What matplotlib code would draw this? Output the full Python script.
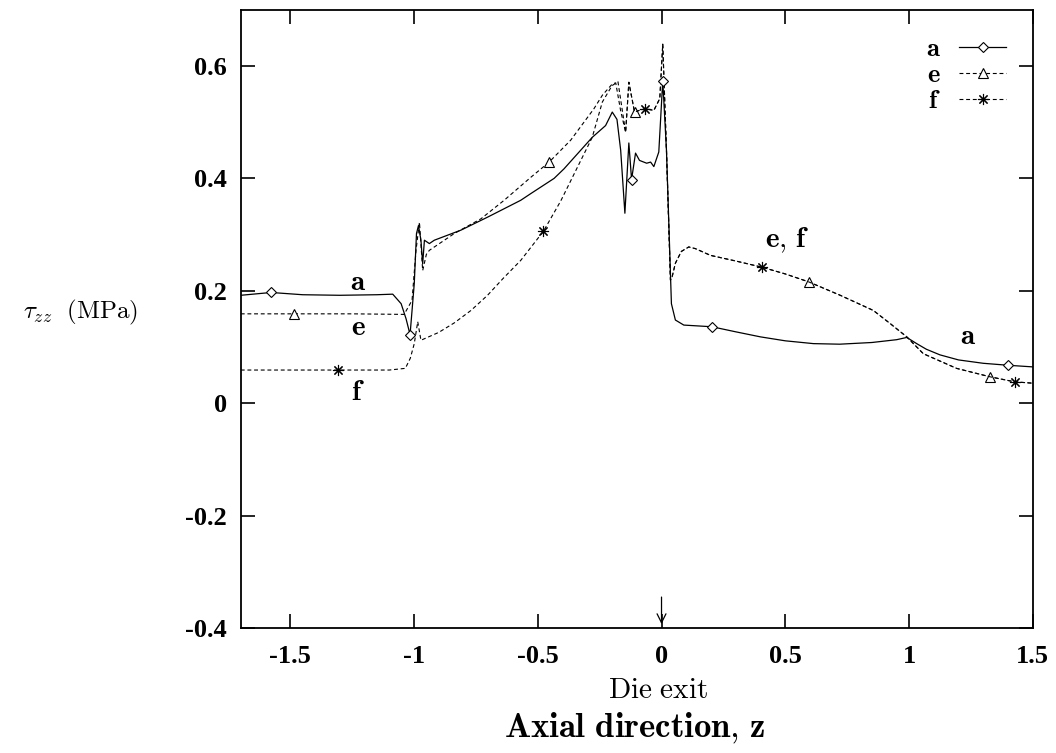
import matplotlib
matplotlib.use("Agg")
import matplotlib.pyplot as plt

plt.rcParams["mathtext.fontset"] = "cm"

# Data

a_x = [-1.70, -1.577, -1.45, -1.30, -1.15, -1.086, -1.052, -1.032, -1.016,
       -0.999, -0.99, -0.982, -0.972, -0.965, -0.958, -0.938, -0.918,
       -0.81, -0.703, -0.569, -0.528, -0.434, -0.394, -0.28, -0.226, -0.199,
       -0.18, -0.165, -0.148, -0.132, -0.121, -0.105, -0.089, -0.06, -0.044,
       -0.031, -0.011, 0.005, 0.02, 0.040, 0.056, 0.09, 0.204, 0.30, 0.40,
       0.50, 0.614, 0.72, 0.85, 0.95, 0.991, 1.031, 1.07, 1.125, 1.20, 1.30,
       1.40, 1.50]
a_y = [0.192, 0.197, 0.193, 0.192, 0.193, 0.194, 0.177, 0.150, 0.122,
       0.213, 0.302, 0.316, 0.290, 0.248, 0.290, 0.284, 0.290,
       0.308, 0.331, 0.361, 0.373, 0.400, 0.417, 0.473, 0.494, 0.518,
       0.505, 0.450, 0.338, 0.463, 0.398, 0.445, 0.432, 0.427, 0.429,
       0.421, 0.447, 0.574, 0.450, 0.177, 0.148, 0.139, 0.136, 0.127, 0.118,
       0.111, 0.106, 0.105, 0.108, 0.113, 0.117, 0.106, 0.096, 0.086, 0.077,
       0.071, 0.0675, 0.0646]
a_marker_x = [-1.577, -1.016, -0.121, 0.005, 0.204, 1.40]

# e and f coincide downstream of z = -0.15
ef_x = [-0.132, -0.109, -0.09, -0.065, -0.031, -0.007, 0.005, 0.02, 0.036,
        0.043, 0.056, 0.08, 0.11, 0.137, 0.198, 0.30, 0.406, 0.50, 0.594,
        0.722, 0.856, 0.923, 0.991, 1.058, 1.192, 1.327, 1.427, 1.50]
ef_y = [0.571, 0.518, 0.521, 0.524, 0.521, 0.542, 0.639, 0.450, 0.219,
        0.225, 0.249, 0.270, 0.278, 0.275, 0.263, 0.253, 0.242, 0.230, 0.216,
        0.192, 0.165, 0.142, 0.118, 0.088, 0.062, 0.047, 0.038, 0.0356]

e_x = [-1.70, -1.484, -1.25, -1.04, -1.008, -0.992, -0.978, -0.965, -0.95,
       -0.938, -0.837, -0.73, -0.636, -0.528, -0.454, -0.367, -0.273, -0.239,
       -0.199, -0.185, -0.165, -0.145] + ef_x
e_y = [0.159, 0.159, 0.159, 0.158, 0.183, 0.272, 0.322, 0.236, 0.265,
       0.272, 0.302, 0.328, 0.361, 0.402, 0.429, 0.468, 0.524, 0.548,
       0.568, 0.570, 0.520, 0.482] + ef_y
e_marker_x = [-1.484, -0.454, -0.109, 0.594, 1.327]

f_x = [-1.70, -1.308, -1.10, -1.035, -1.015, -0.999, -0.985, -0.972,
       -0.90, -0.837, -0.77, -0.703, -0.64, -0.569, -0.477, -0.407, -0.28,
       -0.239, -0.20, -0.176, -0.165, -0.145] + ef_x
f_y = [0.059, 0.059, 0.059, 0.062, 0.080, 0.106, 0.145, 0.112,
       0.126, 0.143, 0.165, 0.192, 0.222, 0.254, 0.306, 0.360, 0.473,
       0.536, 0.565, 0.572, 0.540, 0.482] + ef_y
f_marker_x = [-1.308, -0.477, -0.065, 0.406, 1.427]

x_ticks = [-1.5, -1, -0.5, 0, 0.5, 1, 1.5]
x_labels = ["-1.5", "-1", "-0.5", "0", "0.5", "1", "1.5"]
y_ticks = [-0.4, -0.2, 0, 0.2, 0.4, 0.6]
y_labels = ["-0.4", "-0.2", "0", "0.2", "0.4", "0.6"]


fig = plt.figure(figsize=(10.56, 7.53), dpi=100)
ax = fig.add_axes([0.228, 0.166, 0.75, 0.821])

dash = (0, (3.5, 2.5))
ax.plot(a_x, a_y, color="black", lw=0.9, marker="D", ms=5.5, mfc="white",
        mec="black", mew=0.8, markevery=[a_x.index(v) for v in a_marker_x],
        label=r"$\mathbf{a}$", zorder=3)
ax.plot(e_x, e_y, color="black", lw=0.8, ls=dash, marker="^", ms=6.5,
        mfc="white", mec="black", mew=0.8,
        markevery=[e_x.index(v) for v in e_marker_x], label=r"$\mathbf{e}$")
ax.plot(f_x, f_y, color="black", lw=0.8, ls=dash, marker=(8, 2, 0), ms=8,
        mec="black", mew=0.8,
        markevery=[f_x.index(v) for v in f_marker_x], label=r"$\mathbf{f}$")

ax.set_xlim(-1.7, 1.5)
ax.set_ylim(-0.4, 0.7)
ax.set_xticks(x_ticks)
ax.set_xticklabels(x_labels)
ax.set_yticks(y_ticks)
ax.set_yticklabels(y_labels)
ax.tick_params(direction="in", length=10, width=1.2, top=True, right=True)
ax.tick_params(axis="x", pad=12)
ax.tick_params(axis="y", pad=10)
for lab in ax.get_xticklabels() + ax.get_yticklabels():
    lab.set_fontfamily("Liberation Serif")
    lab.set_fontweight("bold")
    lab.set_fontsize(19)
for sp in ax.spines.values():
    sp.set_linewidth(1.3)

# curve labels
lab_kw = dict(fontsize=21, ha="center", va="center")
ax.text(-1.226, 0.215, r"$\mathbf{a}$", **lab_kw)
ax.text(-1.226, 0.135, r"$\mathbf{e}$", **lab_kw)
ax.text(-1.226, 0.020, r"$\mathbf{f}$", **lab_kw)
ax.text(0.508, 0.290, r"$\mathbf{e{,}\ f}$", **lab_kw)
ax.text(1.238, 0.119, r"$\mathbf{a}$", **lab_kw)

# die exit arrow
ax.annotate("", xy=(0, -0.398), xytext=(0, -0.34),
            arrowprops=dict(arrowstyle="->", lw=0.9, color="black",
                            mutation_scale=16))

ax.text(-0.015, -0.078, r"$\mathrm{Die\ exit}$",
        transform=ax.get_xaxis_transform(), ha="center", va="top", fontsize=21)
fig.text(0.601, 0.033, r"$\mathbf{Axial\ direction{,}\ z}$", ha="center",
         va="center", fontsize=25)
fig.text(0.076, 0.585, r"$\tau_{zz}\ \ (\mathrm{MPa})$", ha="center",
         va="center", fontsize=18)

leg = ax.legend(loc="upper right", frameon=False, markerfirst=False,
                handlelength=1.8, handletextpad=0.7, fontsize=19,
                borderaxespad=0.6, labelspacing=0.0, numpoints=1)

fig.savefig("out.png", dpi=100)
